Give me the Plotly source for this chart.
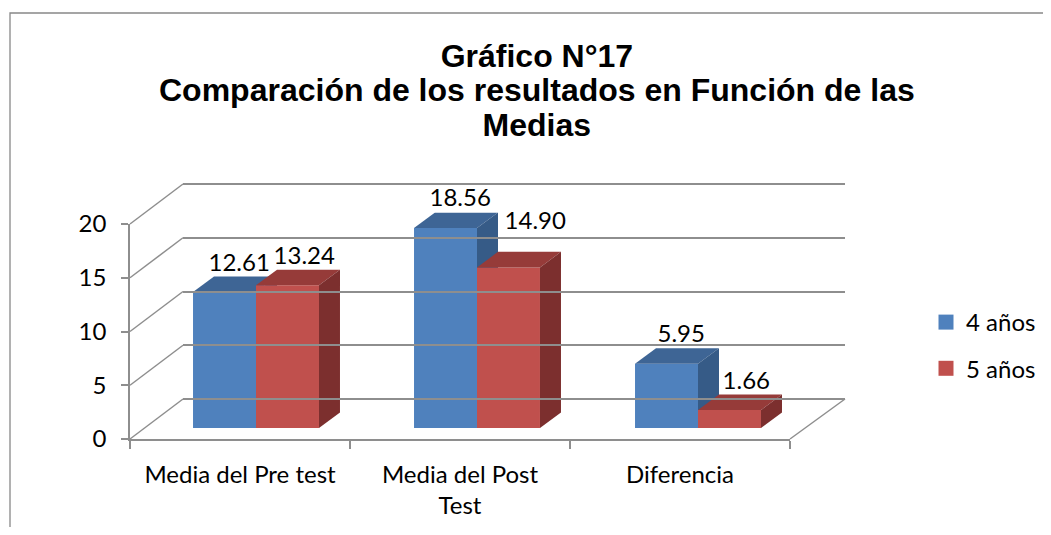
import plotly.graph_objects as go

# ---- data ----
categories = ["Media del Pre test", "Media del Post<br>Test", "Diferencia"]
series_names = ["4 años", "5 años"]
values_4 = [12.61, 18.56, 5.95]
values_5 = [13.24, 14.90, 1.66]
y_ticks = [0, 5, 10, 15, 20]

title_lines = ["Gráfico N°17", "Comparación de los resultados en Función de las", "Medias"]

# ---- styles ----
PAGE_OFF = 8            # default body margin of the html page
W, H = 1051 - 2 * PAGE_OFF, 535 - 2 * PAGE_OFF
BLUE = dict(front="#4F81BD", top="#3E6595", side="#365B87")
RED = dict(front="#C0504D", top="#963B39", side="#7C2F2E")
GRID = "#8E8E8E"
FONT = "Lato"
FS = 24


def px(xp):
    """page pixel x -> paper fraction"""
    return (xp - PAGE_OFF) / W


def py(yp):
    """page pixel y (from top) -> paper fraction"""
    return 1 - (yp - PAGE_OFF) / H


# geometry (page pixel frame of the 3D box)
FX0, FX1, FY0, FY20 = 130, 790, 439, 224      # front plane
BX0, BX1, BY0, BY20 = 183, 845, 399, 184      # back wall
BARX0, BARX1, BARY0, BARY20 = 145.5, 808.5, 428, 212.4  # bar plane
DEPTH_X = 0.095   # bar depth in x units
DEPTH_Y = 1.44    # bar depth in y units
BAR_W = 0.285
Y_MAX = 20
BACK_PAD = 1.0    # headroom so the top back grid line is drawn
back_top_px = BY20 - BACK_PAD * (BY0 - BY20) / Y_MAX
PX_PER_X = (BARX1 - BARX0) / 3.0
PX_PER_Y = (BARY0 - BARY20) / Y_MAX
# label nudges in pixels (series index, category index) -> (dx, dy up)
LABEL_NUDGE = {(1, 1): (10, 17)}

n = len(categories)
pos = list(range(n))

fig = go.Figure()

# invisible trace so the back-wall subplot exists
fig.add_trace(go.Scatter(x=[None], y=[None], xaxis="x3", yaxis="y3",
                         showlegend=False, hoverinfo="skip"))

# blue bars on y2
fig.add_trace(go.Bar(x=pos, y=values_4, width=BAR_W, offset=-BAR_W,
                     marker=dict(color=BLUE["front"], line=dict(width=0)),
                     xaxis="x2", yaxis="y2", showlegend=False, hoverinfo="skip"))
# red bars on y4 (overlaying so they draw above blue)
fig.add_trace(go.Bar(x=pos, y=values_5, width=BAR_W, offset=0,
                     marker=dict(color=RED["front"], line=dict(width=0)),
                     xaxis="x2", yaxis="y4", showlegend=False, hoverinfo="skip"))


def faces(vals, offset, colors, yaxis):
    for i, v in zip(pos, vals):
        x0 = i + offset
        x1 = x0 + BAR_W
        # top face
        fig.add_trace(go.Scatter(
            x=[x0, x0 + DEPTH_X, x1 + DEPTH_X, x1, x0],
            y=[v, v + DEPTH_Y, v + DEPTH_Y, v, v],
            fill="toself", fillcolor=colors["top"], mode="lines",
            line=dict(width=0, color=colors["top"]),
            xaxis="x2", yaxis=yaxis, showlegend=False, hoverinfo="skip"))
        # side face
        fig.add_trace(go.Scatter(
            x=[x1, x1 + DEPTH_X, x1 + DEPTH_X, x1, x1],
            y=[0, DEPTH_Y, v + DEPTH_Y, v, 0],
            fill="toself", fillcolor=colors["side"], mode="lines",
            line=dict(width=0, color=colors["side"]),
            xaxis="x2", yaxis=yaxis, showlegend=False, hoverinfo="skip"))


faces(values_4, -BAR_W, BLUE, "y2")
faces(values_5, 0, RED, "y4")

# data labels
lab_x, lab_y, lab_t = [], [], []
for s, (vals, centre_off, fac) in enumerate([(values_4, -BAR_W / 2, 0.7),
                                             (values_5, BAR_W / 2, 0.8)]):
    for i, v in zip(pos, vals):
        ndx, ndy = LABEL_NUDGE.get((s, i), (0, 0))
        lab_x.append(i + centre_off + DEPTH_X * fac + ndx / PX_PER_X)
        lab_y.append(v + DEPTH_Y + ndy / PX_PER_Y)
        lab_t.append(f"{v:.2f}")
fig.add_trace(go.Scatter(x=lab_x, y=lab_y, text=lab_t, mode="text",
                         textposition="top center", cliponaxis=False,
                         textfont=dict(family=FONT, size=FS, color="#000000"),
                         xaxis="x2", yaxis="y4", showlegend=False, hoverinfo="skip"))

# legend entries
for name, c in zip(series_names, [BLUE["front"], RED["front"]]):
    fig.add_trace(go.Scatter(x=[None], y=[None], mode="markers", name=name,
                             legendgroup=name,
                             marker=dict(symbol="square", size=15, color=c),
                             xaxis="x", yaxis="y"))

shapes = []
# slanted grid lines from front axis to back wall
for v in y_ticks:
    yf = FY0 - v * (FY0 - FY20) / Y_MAX
    yb = BY0 - v * (BY0 - BY20) / Y_MAX
    shapes.append(dict(type="line", xref="paper", yref="paper",
                       x0=px(FX0), y0=py(yf), x1=px(BX0), y1=py(yb),
                       line=dict(color=GRID, width=1.5), layer="below"))
# floor right edge
shapes.append(dict(type="line", xref="paper", yref="paper",
                   x0=px(FX1), y0=py(FY0), x1=px(BX1), y1=py(BY0),
                   line=dict(color=GRID, width=1.5), layer="below"))
# outer border
shapes.append(dict(type="rect", xref="paper", yref="paper",
                   x0=px(10), y0=-0.1, x1=1.1, y1=py(13),
                   line=dict(color="#888888", width=1.3), layer="below"))

title_text = "<br>".join(f"<span style='font-size:32px'><b>{t}</b></span>" for t in title_lines)
annotations = [dict(text=title_text, xref="paper", yref="paper",
                    x=px(537), y=py(90), xanchor="center", yanchor="middle",
                    showarrow=False, align="center",
                    font=dict(family="Liberation Sans", size=26.5, color="#000000"))]

fig.update_layout(
    width=W, height=H,
    margin=dict(l=0, r=0, t=0, b=0, autoexpand=False),
    paper_bgcolor="white", plot_bgcolor="rgba(0,0,0,0)",
    shapes=shapes, annotations=annotations,
    xaxis=dict(domain=[px(FX0), px(FX1)], range=[-0.5, n - 0.5],
               tickvals=pos, ticktext=categories, ticks="",
               showline=True, linecolor=GRID, linewidth=1.5,
               showgrid=False, zeroline=False, ticklabelstandoff=13,
               tickfont=dict(family=FONT, size=FS, color="#000000"),
               minor=dict(tickvals=[p - 0.5 for p in pos] + [n - 0.5], ticks="outside",
                          ticklen=8, tickcolor=GRID, tickwidth=1.5, showgrid=False),
               anchor="y", fixedrange=True),
    yaxis=dict(domain=[py(FY0), py(FY20)], range=[0, Y_MAX], tickvals=y_ticks,
               ticks="outside", ticklen=7, tickcolor=GRID, tickwidth=1.5,
               showline=True, linecolor=GRID, linewidth=1.5,
               showgrid=False, zeroline=False, ticklabelstandoff=10,
               tickfont=dict(family=FONT, size=FS, color="#000000"),
               anchor="x", fixedrange=True),
    xaxis3=dict(domain=[px(BX0), px(BX1)], range=[0, 1],
                showgrid=False, zeroline=False, showline=False,
                showticklabels=False, ticks="",
                anchor="y3", fixedrange=True),
    yaxis3=dict(domain=[py(BY0), py(back_top_px)], range=[0, Y_MAX + BACK_PAD],
                tickvals=y_ticks,
                showgrid=True, gridcolor=GRID, gridwidth=1.5,
                zeroline=True, zerolinecolor=GRID, zerolinewidth=1.5,
                showticklabels=False, ticks="", showline=False,
                anchor="x3", fixedrange=True),
    xaxis2=dict(domain=[px(BARX0), px(BARX1)], range=[-0.5, n - 0.5], visible=False,
                anchor="y2", fixedrange=True),
    yaxis2=dict(domain=[py(BARY0), py(BARY20)], range=[0, Y_MAX], visible=False,
                anchor="x2", fixedrange=True),
    yaxis4=dict(range=[0, Y_MAX], visible=False, overlaying="y2", anchor="x2",
                fixedrange=True),
    legend=dict(x=px(926), y=py(300), xanchor="left", yanchor="top",
                font=dict(family=FONT, size=FS, color="#000000"),
                tracegroupgap=12, bgcolor="rgba(0,0,0,0)"),
    showlegend=True,
)

fig.write_html("out.html")
